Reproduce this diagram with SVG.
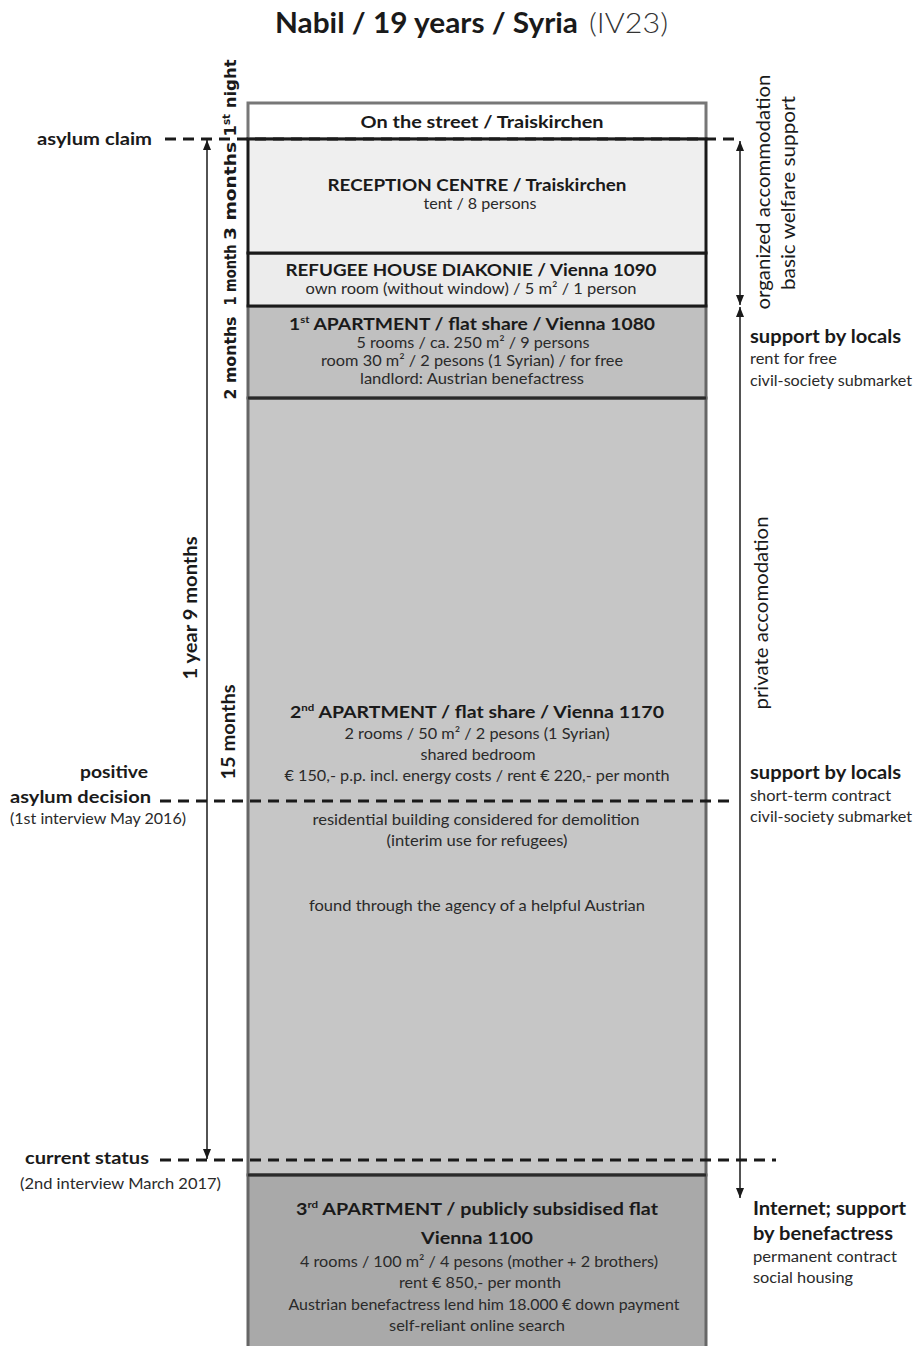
<svg xmlns="http://www.w3.org/2000/svg" width="918" height="1346" viewBox="0 0 918 1346">
<style>
text{font-family:Lato,"Open Sans","Liberation Sans",sans-serif;fill:#1a1a1a}
.t{font-size:28px;font-weight:bold}
.tl{font-size:27px;font-weight:300;fill:#333}
.h{font-size:17px;font-weight:bold;text-anchor:middle}
.s{font-size:15px;text-anchor:middle;fill:#2a2a2a}
.lb{font-size:17px;font-weight:bold}
.ls{font-size:15px;fill:#2a2a2a}
.rb{font-size:18px;font-weight:bold}
.rs{font-size:15px;fill:#2a2a2a}
.v{font-family:"DejaVu Sans",Verdana,sans-serif;font-size:16px;font-weight:bold;text-anchor:middle}
.vl{font-size:18px;font-weight:bold;text-anchor:middle}
.vr{font-size:19px;text-anchor:middle}
.sup{font-size:10px}
.dash{stroke:#1a1a1a;stroke-width:3;stroke-dasharray:11 7;fill:none}
.arr{stroke:#1a1a1a;stroke-width:1.5;fill:none;marker-start:url(#ah);marker-end:url(#ah)}
</style>
<defs>
<marker id="ah" viewBox="0 0 10 10" refX="10" refY="5" markerWidth="10" markerHeight="10" markerUnits="userSpaceOnUse" orient="auto-start-reverse">
<path d="M0,1 L10,5 L0,9 Z" fill="#1a1a1a"/>
</marker>
</defs>

<g id="title">
<text class="t" x="275" y="33" textLength="303" lengthAdjust="spacingAndGlyphs">Nabil / 19 years / Syria</text>
<text class="tl" x="589" y="33" textLength="79" lengthAdjust="spacingAndGlyphs">(IV23)</text>
</g>

<g id="street">
<rect x="248" y="103" width="458" height="36" fill="#ffffff" stroke="#777" stroke-width="3"/>
<text class="h" x="482" y="128" textLength="243" lengthAdjust="spacingAndGlyphs">On the street / Traiskirchen</text>
</g>

<g id="apt2">
<rect x="248" y="398" width="458" height="777" fill="#c6c6c6" stroke="#666" stroke-width="3"/>
<text class="h" x="477" y="718" textLength="374" lengthAdjust="spacingAndGlyphs">2<tspan class="sup" dy="-7">nd</tspan><tspan dy="7"> APARTMENT / flat share / Vienna 1170</tspan></text>
<text class="s" x="477" y="739" textLength="265" lengthAdjust="spacingAndGlyphs">2 rooms / 50 m² / 2 pesons (1 Syrian)</text>
<text class="s" x="478" y="760" textLength="115" lengthAdjust="spacingAndGlyphs">shared bedroom</text>
<text class="s" x="477" y="781" textLength="385" lengthAdjust="spacingAndGlyphs">€ 150,- p.p. incl. energy costs / rent € 220,- per month</text>
<text class="s" x="476" y="825" textLength="327" lengthAdjust="spacingAndGlyphs">residential building considered for demolition</text>
<text class="s" x="477" y="846" textLength="181" lengthAdjust="spacingAndGlyphs">(interim use for refugees)</text>
<text class="s" x="477" y="911" textLength="336" lengthAdjust="spacingAndGlyphs">found through the agency of a helpful Austrian</text>
</g>

<g id="apt1">
<rect x="248" y="306" width="458" height="92" fill="#c0c0c0" stroke="#666" stroke-width="3"/>
<line x1="248" y1="398" x2="706" y2="398" stroke="#2a2a2a" stroke-width="3"/>
<text class="h" x="472" y="330" textLength="366" lengthAdjust="spacingAndGlyphs">1<tspan class="sup" dy="-7">st</tspan><tspan dy="7"> APARTMENT / flat share / Vienna 1080</tspan></text>
<text class="s" x="473" y="348" textLength="233" lengthAdjust="spacingAndGlyphs">5 rooms / ca. 250 m² / 9 persons</text>
<text class="s" x="472" y="366" textLength="302" lengthAdjust="spacingAndGlyphs">room 30 m² / 2 pesons (1 Syrian) / for free</text>
<text class="s" x="472" y="384" textLength="224" lengthAdjust="spacingAndGlyphs">landlord: Austrian benefactress</text>
</g>

<g id="refugee-house">
<rect x="248" y="253" width="458" height="53" fill="#ececec" stroke="#1a1a1a" stroke-width="3"/>
<text class="h" x="471" y="276" textLength="371" lengthAdjust="spacingAndGlyphs">REFUGEE HOUSE DIAKONIE / Vienna 1090</text>
<text class="s" x="471" y="294" textLength="331" lengthAdjust="spacingAndGlyphs">own room (without window) / 5 m² / 1 person</text>
</g>

<g id="reception">
<rect x="248" y="139" width="458" height="114" fill="#efefef" stroke="#1a1a1a" stroke-width="3"/>
<text class="h" x="477" y="191" textLength="299" lengthAdjust="spacingAndGlyphs">RECEPTION CENTRE / Traiskirchen</text>
<text class="s" x="480" y="209" textLength="113" lengthAdjust="spacingAndGlyphs">tent / 8 persons</text>
</g>

<g id="apt3">
<rect x="248" y="1175" width="458" height="180" fill="#a9a9a9" stroke="#666" stroke-width="3"/>
<line x1="248" y1="1175" x2="706" y2="1175" stroke="#2a2a2a" stroke-width="3"/>
<text class="h" x="477" y="1215" textLength="362" lengthAdjust="spacingAndGlyphs">3<tspan class="sup" dy="-7">rd</tspan><tspan dy="7"> APARTMENT / publicly subsidised flat</tspan></text>
<text class="h" x="477" y="1244" textLength="112" lengthAdjust="spacingAndGlyphs">Vienna 1100</text>
<text class="s" x="479" y="1267" textLength="358" lengthAdjust="spacingAndGlyphs">4 rooms / 100 m² / 4 pesons (mother + 2 brothers)</text>
<text class="s" x="480" y="1288" textLength="162" lengthAdjust="spacingAndGlyphs">rent € 850,- per month</text>
<text class="s" x="484" y="1310" textLength="391" lengthAdjust="spacingAndGlyphs">Austrian benefactress lend him 18.000 € down payment</text>
<text class="s" x="477" y="1331" textLength="176" lengthAdjust="spacingAndGlyphs">self-reliant online search</text>
</g>

<g id="connectors">
<line class="dash" x1="165" y1="139" x2="740" y2="139"/>
<line class="dash" x1="160" y1="801" x2="735" y2="801"/>
<line class="dash" x1="160" y1="1160" x2="776" y2="1160"/>
<line class="arr" x1="207" y1="140" x2="207" y2="1159"/>
<line class="arr" x1="740" y1="141" x2="740" y2="305"/>
<line class="arr" x1="740" y1="307" x2="740" y2="1198"/>
</g>

<g id="left-labels">
<text class="lb" x="37" y="145" textLength="115" lengthAdjust="spacingAndGlyphs">asylum claim</text>
<text class="lb" x="80" y="778" textLength="68" lengthAdjust="spacingAndGlyphs">positive</text>
<text class="lb" x="10" y="803" textLength="141" lengthAdjust="spacingAndGlyphs">asylum decision</text>
<text class="ls" x="10" y="824" textLength="176" lengthAdjust="spacingAndGlyphs">(1st interview May 2016)</text>
<text class="lb" x="25" y="1164" textLength="124" lengthAdjust="spacingAndGlyphs">current status</text>
<text class="ls" x="20" y="1189" textLength="201" lengthAdjust="spacingAndGlyphs">(2nd interview March 2017)</text>
</g>

<g id="durations">
<text class="v" transform="translate(236,98) rotate(-90)" textLength="77" lengthAdjust="spacingAndGlyphs">1<tspan class="sup" dy="-6">st</tspan><tspan dy="6"> night</tspan></text>
<text class="v" transform="translate(236,191) rotate(-90)" textLength="98" lengthAdjust="spacingAndGlyphs">3 months</text>
<text class="v" transform="translate(236,275) rotate(-90)" textLength="61" lengthAdjust="spacingAndGlyphs">1 month</text>
<text class="v" transform="translate(236,358) rotate(-90)" textLength="83" lengthAdjust="spacingAndGlyphs">2 months</text>
<text class="vl" transform="translate(235,732) rotate(-90)" textLength="95" lengthAdjust="spacingAndGlyphs">15 months</text>
<text class="vl" transform="translate(197,608) rotate(-90)" textLength="143" lengthAdjust="spacingAndGlyphs">1 year 9 months</text>
</g>

<g id="right-labels">
<text class="vr" transform="translate(770,192) rotate(-90)" textLength="235" lengthAdjust="spacingAndGlyphs">organized accommodation</text>
<text class="vr" transform="translate(795,193) rotate(-90)" textLength="194" lengthAdjust="spacingAndGlyphs">basic welfare support</text>
<text class="vr" transform="translate(768,613) rotate(-90)" textLength="193" lengthAdjust="spacingAndGlyphs">private accomodation</text>
<text class="rb" x="750" y="343" textLength="151" lengthAdjust="spacingAndGlyphs">support by locals</text>
<text class="rs" x="750" y="364" textLength="87" lengthAdjust="spacingAndGlyphs">rent for free</text>
<text class="rs" x="750" y="386" textLength="162" lengthAdjust="spacingAndGlyphs">civil-society submarket</text>
<text class="rb" x="750" y="779" textLength="151" lengthAdjust="spacingAndGlyphs">support by locals</text>
<text class="rs" x="750" y="801" textLength="141" lengthAdjust="spacingAndGlyphs">short-term contract</text>
<text class="rs" x="750" y="822" textLength="162" lengthAdjust="spacingAndGlyphs">civil-society submarket</text>
<text class="rb" x="753" y="1215" textLength="153" lengthAdjust="spacingAndGlyphs">Internet; support</text>
<text class="rb" x="753" y="1240" textLength="140" lengthAdjust="spacingAndGlyphs">by benefactress</text>
<text class="rs" x="753" y="1262" textLength="144" lengthAdjust="spacingAndGlyphs">permanent contract</text>
<text class="rs" x="753" y="1283" textLength="100" lengthAdjust="spacingAndGlyphs">social housing</text>
</g>
</svg>
